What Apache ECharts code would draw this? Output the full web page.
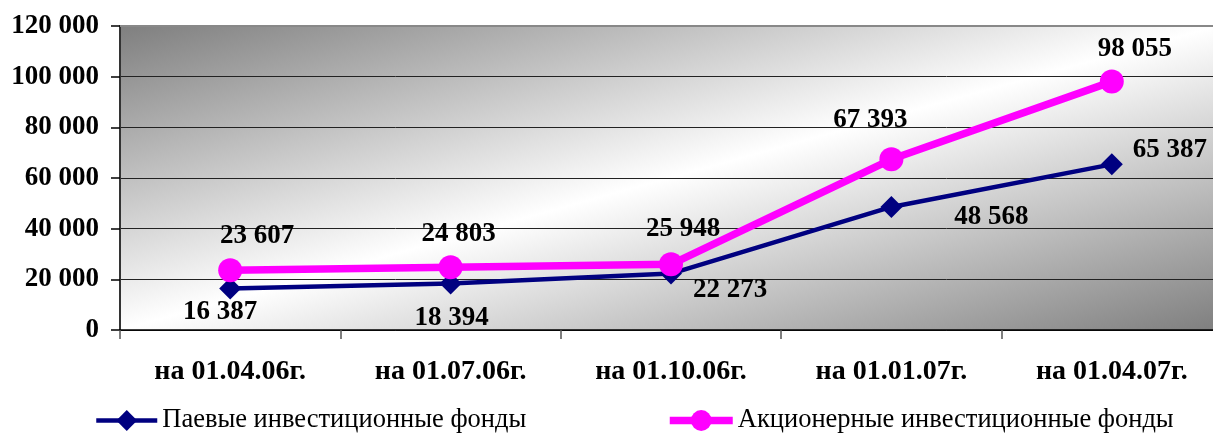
<!DOCTYPE html>
<html>
<head>
<meta charset="utf-8">
<script src="https://cdn.jsdelivr.net/npm/echarts@6/dist/echarts.min.js"></script>
<style>
html,body{margin:0;padding:0;background:#fff;overflow:hidden;width:1213px;height:435px;}
#c{width:1222px;height:435px;}
</style>
</head>
<body>
<div id="c"></div>
<script>
var categories = ['на 01.04.06г.', 'на 01.07.06г.', 'на 01.10.06г.', 'на 01.01.07г.', 'на 01.04.07г.'];
var seriesNames = ['Паевые инвестиционные фонды', 'Акционерные инвестиционные фонды'];
var paevye = [16387, 18394, 22273, 48568, 65387];
var akcionernye = [23607, 24803, 25948, 67393, 98055];
var yTicks = {min: 0, max: 120000, interval: 20000};

// label placement (pixel offsets from the point)
var paevyeLabelOffsets = [[-10, 24], [1, 35], [59, 16], [100, 10], [58, -14]];
var akcLabelOffsets = [[27, -34], [8, -33], [12, -35], [-21, -39], [23, -33]];

function fmt(v) {
  return String(v).replace(/\B(?=(\d{3})+(?!\d))/g, ' ');
}
function withLabels(values, offsets) {
  return values.map(function (v, i) {
    return {value: v, label: {offset: offsets[i]}};
  });
}

var serif = '"Liberation Serif", "Times New Roman", serif';
var chart = echarts.init(document.getElementById('c'));
var labelStyle = {
  show: true,
  position: 'inside',
  fontFamily: serif,
  fontWeight: 'bold',
  fontSize: 27,
  color: '#000',
  formatter: function (p) { return fmt(p.value); }
};

chart.setOption({
  animation: false,
  grid: {
    left: 120, top: 26, right: 0, height: 304,
    show: true,
    borderWidth: 0,
    backgroundColor: {
      type: 'linear', x: 0, y: 0, x2: 0.142, y2: 1.858,
      colorStops: [
        {offset: 0, color: '#7f7f7f'},
        {offset: 0.5, color: '#ffffff'},
        {offset: 1, color: '#7f7f7f'}
      ]
    }
  },
  graphic: [{
    type: 'line',
    shape: {x1: 120, y1: 26, x2: 1222, y2: 26},
    style: {stroke: '#888', lineWidth: 2},
    z: 5
  }],
  legend: [{
    data: [seriesNames[0]],
    left: 94, top: 407, padding: 0,
    itemWidth: 61, itemHeight: 26, itemGap: 10,
    lineStyle: {width: 4.5},
    textStyle: {fontFamily: serif, fontSize: 26.5, color: '#000'}
  }, {
    data: [seriesNames[1]],
    left: 666, top: 407, padding: 0,
    itemWidth: 63, itemHeight: 26, itemGap: 10,
    lineStyle: {width: 7.5},
    textStyle: {fontFamily: serif, fontSize: 26.5, color: '#000'}
  }],
  xAxis: {
    type: 'category',
    data: categories,
    boundaryGap: true,
    axisLine: {lineStyle: {color: '#000', width: 1.5}},
    axisTick: {show: true, length: 9, lineStyle: {color: '#555', width: 1.5}},
    axisLabel: {fontFamily: serif, fontWeight: 'bold', fontSize: 28, color: '#000', margin: 28},
    splitLine: {show: false}
  },
  yAxis: {
    type: 'value',
    min: yTicks.min, max: yTicks.max, interval: yTicks.interval,
    axisLine: {show: true, lineStyle: {color: '#333', width: 2}},
    axisTick: {show: true, length: 9, lineStyle: {color: '#000', width: 1.5}},
    axisLabel: {fontFamily: serif, fontWeight: 'bold', fontSize: 27, color: '#000', margin: 21,
      formatter: function (v) { return fmt(v); }},
    splitLine: {show: true, lineStyle: {color: '#222', width: 1}}
  },
  series: [{
    name: seriesNames[0],
    type: 'line',
    data: withLabels(paevye, paevyeLabelOffsets),
    symbol: 'diamond',
    symbolSize: 22,
    lineStyle: {color: '#000080', width: 4.5},
    itemStyle: {color: '#000080'},
    label: labelStyle,
    z: 3
  }, {
    name: seriesNames[1],
    type: 'line',
    data: withLabels(akcionernye, akcLabelOffsets),
    symbol: 'circle',
    symbolSize: 24,
    lineStyle: {color: '#ff00ff', width: 7.5},
    itemStyle: {color: '#ff00ff'},
    label: labelStyle,
    z: 4
  }]
});
</script>
</body>
</html>
